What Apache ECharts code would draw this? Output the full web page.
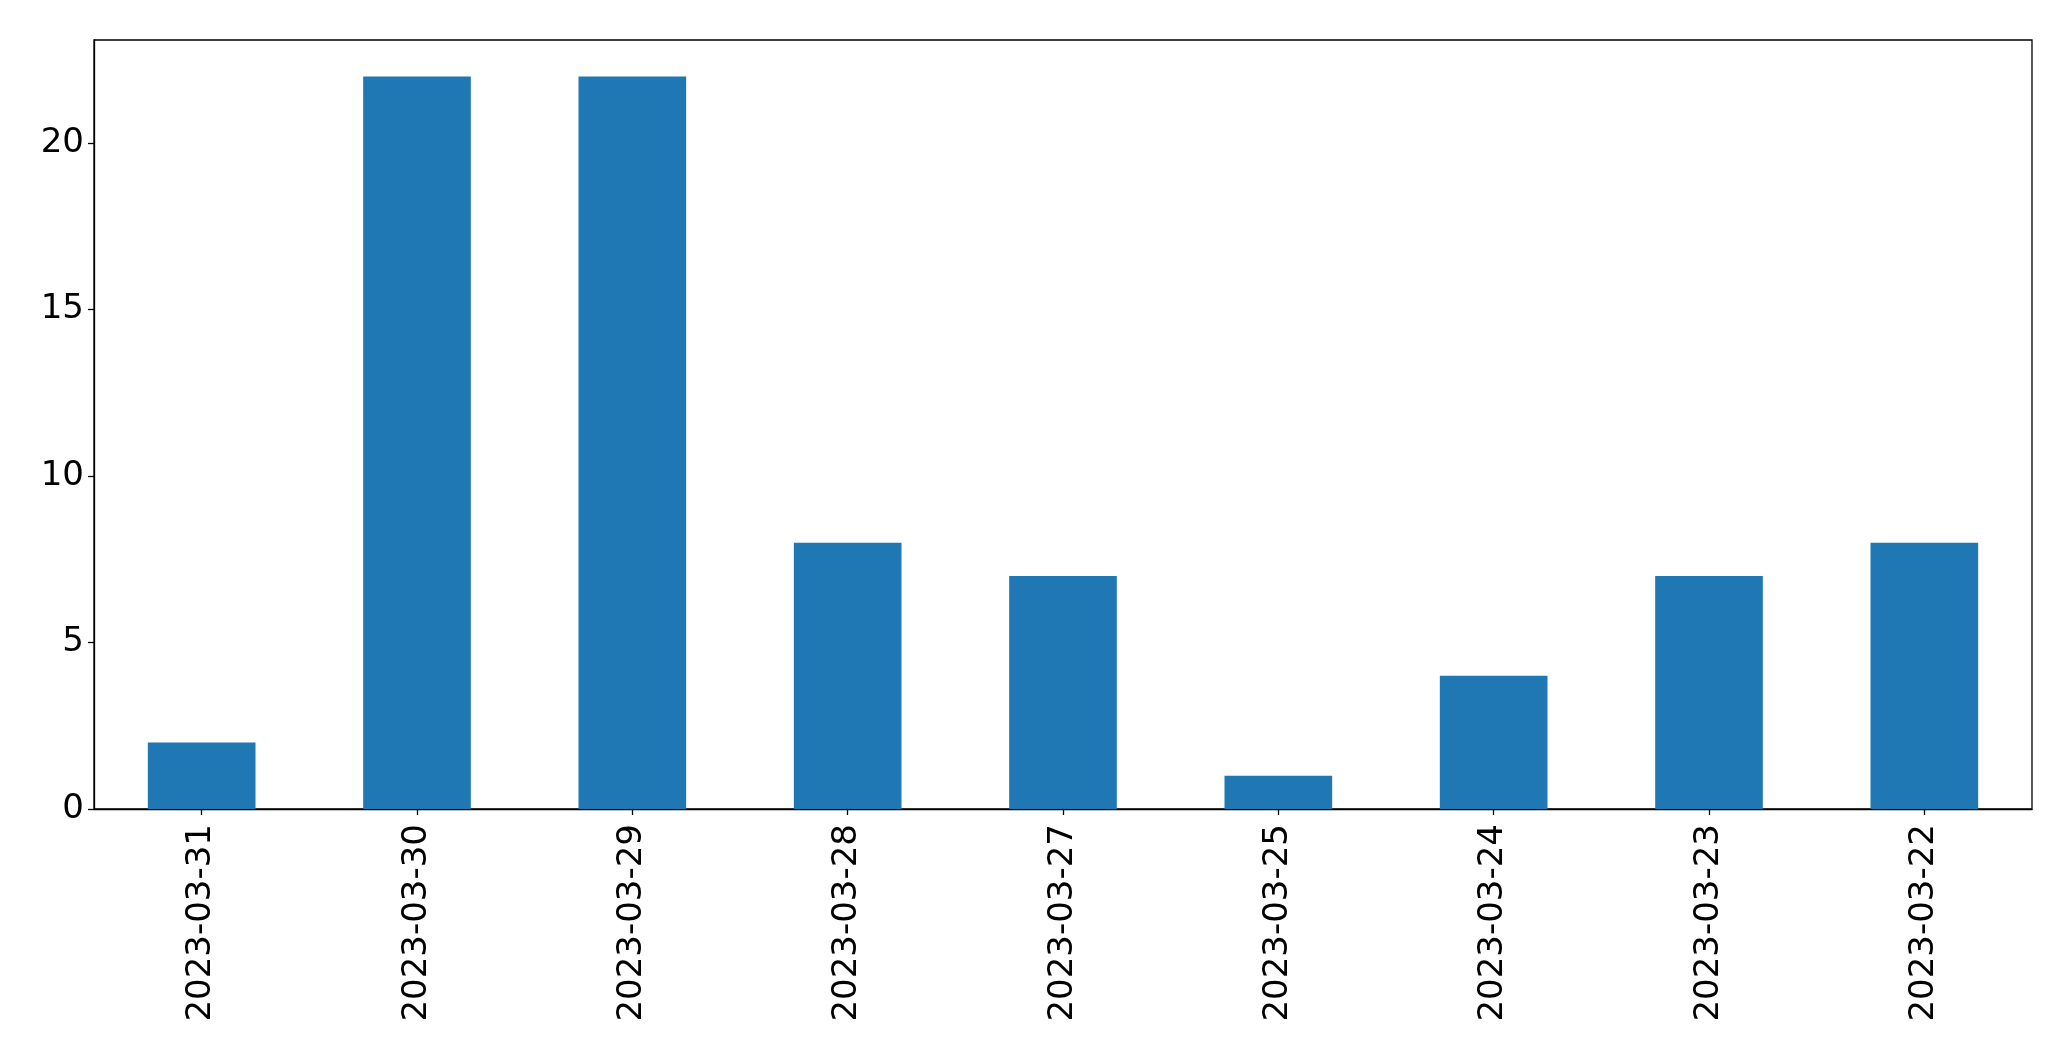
<!DOCTYPE html>
<html>
<head>
<meta charset="utf-8">
<script src="https://cdn.jsdelivr.net/npm/echarts@6/dist/echarts.min.js"></script>
<style>html,body{margin:0;padding:0;background:#fff;}#c{width:2071px;height:1061px;}</style>
</head>
<body>
<div id="c"></div>
<script>
const categories = ['2023-03-31','2023-03-30','2023-03-29','2023-03-28','2023-03-27','2023-03-25','2023-03-24','2023-03-23','2023-03-22'];
const values = [2, 22, 22, 8, 7, 1, 4, 7, 8];
const yTicks = [0, 5, 10, 15, 20];

const chart = echarts.init(document.getElementById('c'), null, {renderer: 'canvas'});
const font = 'DejaVu Sans';
chart.setOption({
  animation: false,
  backgroundColor: '#ffffff',
  grid: {left: 94, right: 39, top: 40, bottom: 252, show: true, borderColor: '#000', borderWidth: 1.3, backgroundColor: 'transparent'},
  xAxis: {
    type: 'category',
    data: categories,
    boundaryGap: true,
    axisLine: {show: true, lineStyle: {color: '#000', width: 1.3}},
    axisTick: {show: true, alignWithLabel: true, length: 6, lineStyle: {color: '#000', width: 1.3}},
    axisLabel: {rotate: 90, fontFamily: font, fontSize: 34, color: '#000', margin: 15, interval: 0},
    splitLine: {show: false}
  },
  yAxis: {
    type: 'value',
    min: 0,
    max: 23.1,
    interval: 5,
    axisLine: {show: true, lineStyle: {color: '#000', width: 1.3}},
    axisTick: {show: true, length: 6, lineStyle: {color: '#000', width: 1.3}, customValues: yTicks},
    axisLabel: {fontFamily: font, fontSize: 34, color: '#000', margin: 10, customValues: yTicks},
    splitLine: {show: false}
  },
  series: [{
    type: 'bar',
    data: values,
    barWidth: '50%',
    itemStyle: {color: '#1f77b4'}
  }]
});
</script>
</body>
</html>
